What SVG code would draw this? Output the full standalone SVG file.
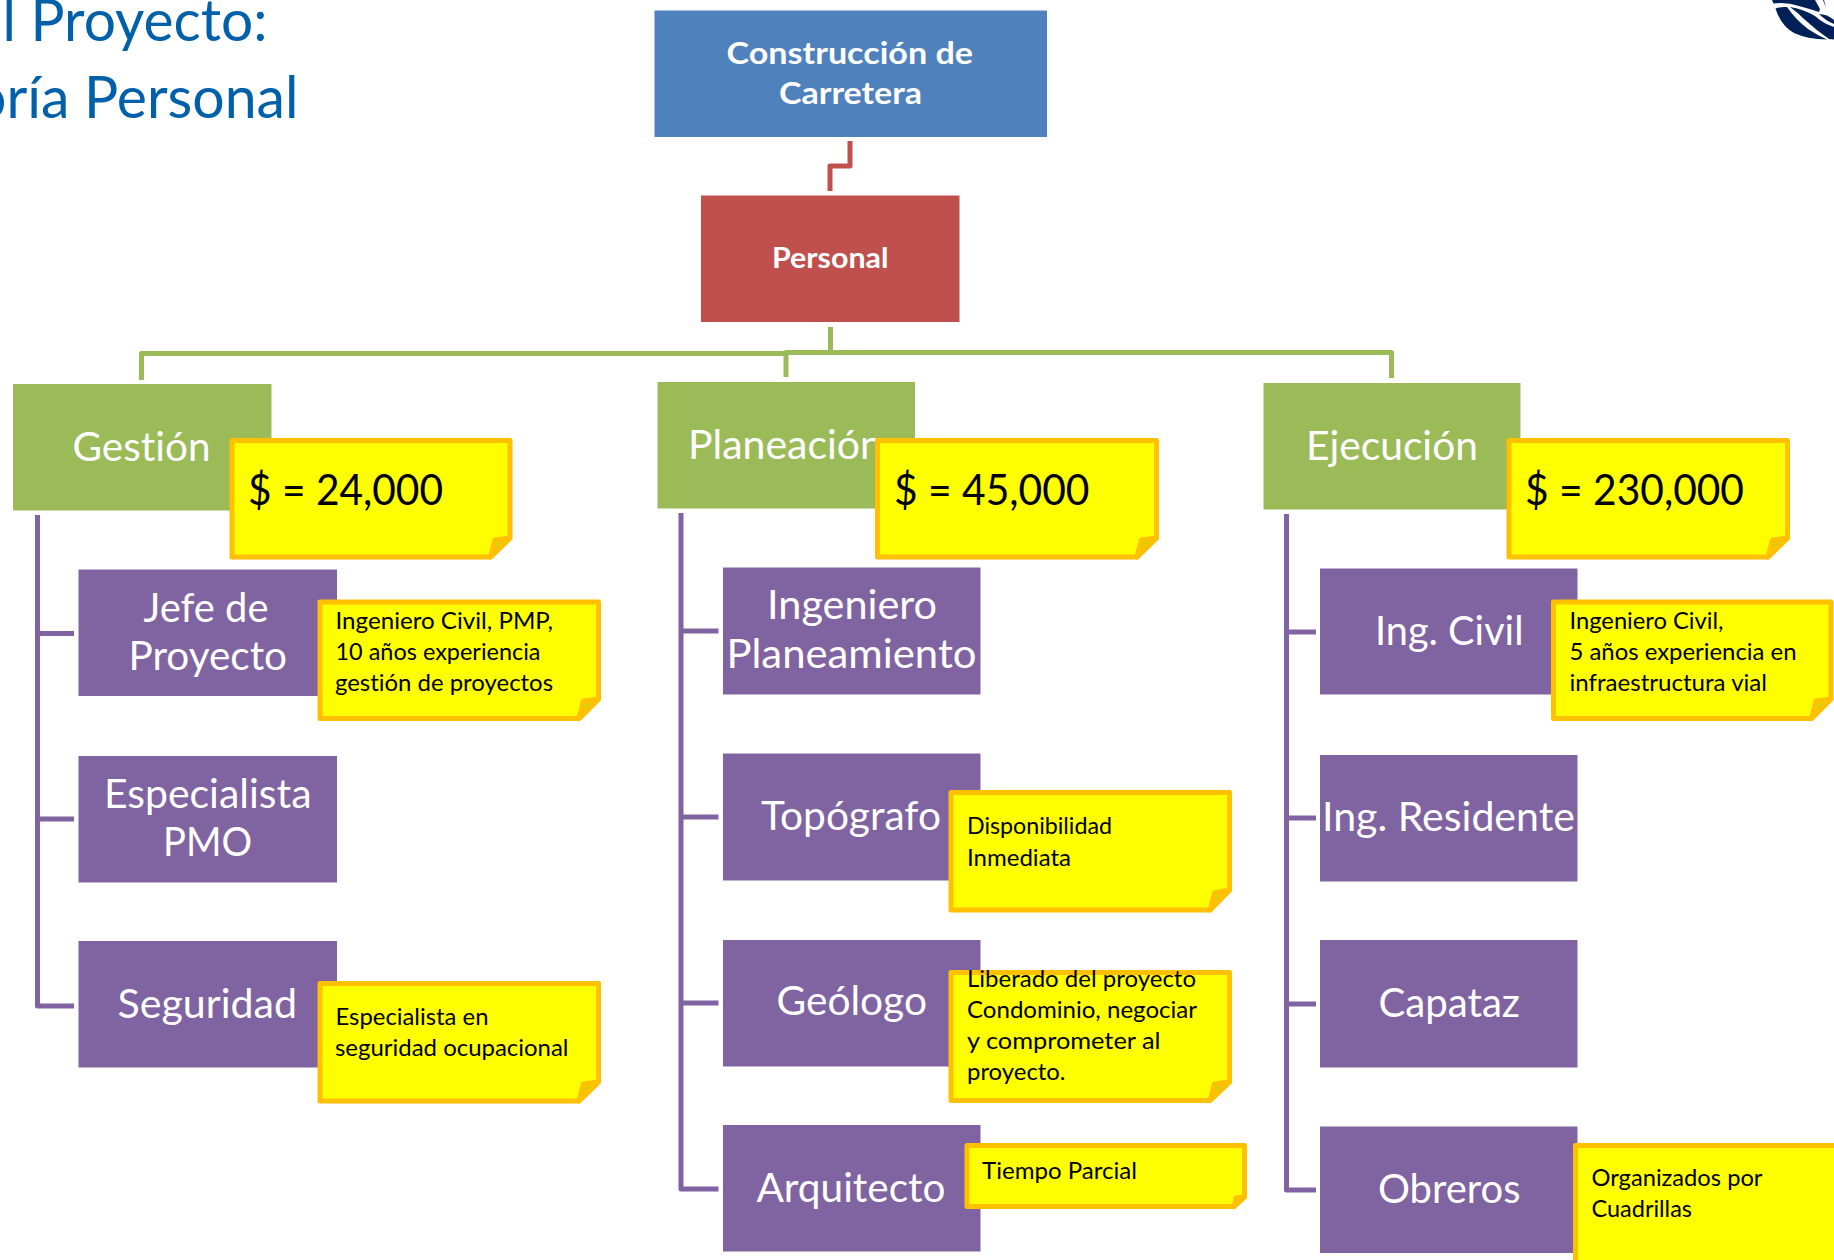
<svg xmlns="http://www.w3.org/2000/svg" width="1834" height="1260" viewBox="0 0 1834 1260">
<style>
text{font-family:Lato,"Open Sans","Liberation Sans",sans-serif;font-variant-ligatures:none}
.t{font-size:41px;fill:#fff}
.b{font-weight:700;fill:#fff}
.title{font-size:59px;fill:#0060A9}
.n{font-size:23px;fill:#000}
.m{font-size:43px;fill:#000}
.blue{fill:#4F81BD}.red{fill:#C0504D}.green{fill:#9BBB59}.purple{fill:#8064A2}
.note{fill:#FFFF00;stroke:#FFC000;stroke-width:5;stroke-linejoin:round}
.fold{fill:#D2D400;stroke:#FFC000;stroke-width:5;stroke-linejoin:round}
.c{fill:none;stroke-width:5;stroke-linejoin:round}
.cr{stroke:#C0504D}.cg{stroke:#9BBB59}.cp{stroke:#8064A2}
.logo{fill:#002157}
</style>
<rect width="1834" height="1260" fill="#fff"/>
<g id="title">
<text class="title" x="2.5" y="41" textLength="265" lengthAdjust="spacingAndGlyphs">l Proyecto:</text>
<text class="title" x="-26" y="118" textLength="324.5" lengthAdjust="spacingAndGlyphs">oría Personal</text>
</g>
<g id="logo" class="logo">
<path d="M1772,0 L1773.5,3.5 Q1787,2 1799,6 Q1810,9 1819,12 L1820,9 L1815,0 Z"/>
<path d="M1775.5,8.5 Q1781,6.5 1787,7 Q1796,20 1808,29 Q1817,35 1827,39.5 Q1807,39 1794,33 Q1781,26 1775.5,8.5 Z"/>
<path d="M1790,7 Q1803,9 1815,16 Q1824,24 1834,27 L1834,39.5 L1829,39 Q1816,30 1804,19 Q1797,12 1790,7 Z"/>
<path d="M1819,14 Q1827,14 1834,20 L1834,24 Q1826,21 1819,14 Z"/>
<path d="M1823,0 L1826,8 L1824,0 Z"/>
</g>
<g id="connectors">
<path class="c cr" d="M850,141V166H830V191"/>
<path class="c cg" d="M830.5,327V352.5H786V377"/>
<path class="c cg" d="M786,353.5H141.5V380"/>
<path class="c cg" d="M830.5,352.5H1391.5V378"/>
<path class="c cp" d="M37.5,515V1006H74M37.5,633.5H74M37.5,819H74"/>
<path class="c cp" d="M681,513V1189H718.5M681,631H718.5M681,817H718.5M681,1003H718.5"/>
<path class="c cp" d="M1286.5,514V1190H1316M1286.5,632H1316M1286.5,818H1316M1286.5,1004H1316"/>
</g>
<g id="n-construccion"><rect class="blue" x="654.5" y="10.5" width="392.5" height="126.5"/>
<text class="b" font-size="31" x="726.5" y="63.5" textLength="246.5" lengthAdjust="spacingAndGlyphs">Construcción de</text>
<text class="b" font-size="31" x="779" y="103.5" textLength="143" lengthAdjust="spacingAndGlyphs">Carretera</text></g>
<g id="n-personal"><rect class="red" x="701" y="195.5" width="258.5" height="126.5"/>
<text class="b" font-size="29" x="772" y="268" textLength="116.5" lengthAdjust="spacingAndGlyphs">Personal</text></g>
<g id="n-gestion"><rect class="green" x="13" y="384" width="258.5" height="126.5"/>
<text class="t" x="72.5" y="460.5" textLength="138" lengthAdjust="spacingAndGlyphs">Gestión</text></g>
<g id="n-planeacion"><rect class="green" x="657.5" y="382" width="257.5" height="126.5"/>
<text class="t" x="688" y="458.5" textLength="195" lengthAdjust="spacingAndGlyphs">Planeación</text></g>
<g id="n-ejecucion"><rect class="green" x="1263.5" y="383" width="257" height="126.5"/>
<text class="t" x="1306" y="459.5" textLength="172" lengthAdjust="spacingAndGlyphs">Ejecución</text></g>
<g id="n-jefe"><rect class="purple" x="78.5" y="569.5" width="258.5" height="126.5"/>
<text class="t" x="143.5" y="621.5" textLength="125" lengthAdjust="spacingAndGlyphs">Jefe de</text>
<text class="t" x="128.5" y="669.5" textLength="158.5" lengthAdjust="spacingAndGlyphs">Proyecto</text></g>
<g id="n-especialista"><rect class="purple" x="78.5" y="756" width="258.5" height="126.5"/>
<text class="t" x="104" y="807.5" textLength="207.5" lengthAdjust="spacingAndGlyphs">Especialista</text>
<text class="t" x="163" y="855.5" textLength="89" lengthAdjust="spacingAndGlyphs">PMO</text></g>
<g id="n-seguridad"><rect class="purple" x="78.5" y="941" width="258.5" height="126.5"/>
<text class="t" x="117.5" y="1017.5" textLength="179.5" lengthAdjust="spacingAndGlyphs">Seguridad</text></g>
<g id="n-ingeniero"><rect class="purple" x="723" y="567.5" width="257.5" height="127"/>
<text class="t" x="767" y="619" textLength="170" lengthAdjust="spacingAndGlyphs">Ingeniero</text>
<text class="t" x="726.5" y="667.5" textLength="250" lengthAdjust="spacingAndGlyphs">Planeamiento</text></g>
<g id="n-topografo"><rect class="purple" x="723" y="753.5" width="257.5" height="127"/>
<text class="t" x="761" y="830" textLength="180" lengthAdjust="spacingAndGlyphs">Topógrafo</text></g>
<g id="n-geologo"><rect class="purple" x="723" y="940" width="257.5" height="126.5"/>
<text class="t" x="776.5" y="1015" textLength="150.5" lengthAdjust="spacingAndGlyphs">Geólogo</text></g>
<g id="n-arquitecto"><rect class="purple" x="723" y="1125" width="257.5" height="126.5"/>
<text class="t" x="756.5" y="1201.5" textLength="189" lengthAdjust="spacingAndGlyphs">Arquitecto</text></g>
<g id="n-ingcivil"><rect class="purple" x="1320" y="568.5" width="257.5" height="126"/>
<text class="t" x="1375" y="645" textLength="148.5" lengthAdjust="spacingAndGlyphs">Ing. Civil</text></g>
<g id="n-residente"><rect class="purple" x="1320" y="755" width="257.5" height="126.5"/>
<text class="t" x="1322" y="831" textLength="253" lengthAdjust="spacingAndGlyphs">Ing. Residente</text></g>
<g id="n-capataz"><rect class="purple" x="1320" y="940" width="257.5" height="127.5"/>
<text class="t" x="1378.5" y="1016.5" textLength="141.5" lengthAdjust="spacingAndGlyphs">Capataz</text></g>
<g id="n-obreros"><rect class="purple" x="1320" y="1126.5" width="257.5" height="126.5"/>
<text class="t" x="1378" y="1202.5" textLength="142.5" lengthAdjust="spacingAndGlyphs">Obreros</text></g>
<g id="note-gestion"><path class="note" d="M232,440.5H510V538L490.5,557H232Z"/><path class="fold" d="M490.5,557L495,540L510,538Z"/>
<text class="m" x="248" y="505" textLength="195" lengthAdjust="spacingAndGlyphs">$ = 24,000</text></g>
<g id="note-planeacion"><path class="note" d="M877.5,440.5H1156.5V538L1137,557H877.5Z"/><path class="fold" d="M1137,557L1141.5,540L1156.5,538Z"/>
<text class="m" x="894" y="505" textLength="195.5" lengthAdjust="spacingAndGlyphs">$ = 45,000</text></g>
<g id="note-ejecucion"><path class="note" d="M1509,440.5H1787.5V538L1768,557H1509Z"/><path class="fold" d="M1768,557L1772.5,540L1787.5,538Z"/>
<text class="m" x="1525" y="505" textLength="219" lengthAdjust="spacingAndGlyphs">$ = 230,000</text></g>
<g id="note-jefe"><path class="note" d="M320,602H598.5V699L579,718.5H320Z"/><path class="fold" d="M579,718.5L583.5,701L598.5,699Z"/>
<text class="n" x="335.5" y="628.5" textLength="217.5" lengthAdjust="spacingAndGlyphs">Ingeniero Civil, PMP,</text>
<text class="n" x="335.5" y="659.5" textLength="205" lengthAdjust="spacingAndGlyphs">10 años experiencia</text>
<text class="n" x="335" y="690.5" textLength="218" lengthAdjust="spacingAndGlyphs">gestión de proyectos</text></g>
<g id="note-ingcivil"><path class="note" d="M1553.5,602H1831V699L1811.5,718.5H1553.5Z"/><path class="fold" d="M1811.5,718.5L1816,701L1831,699Z"/>
<text class="n" x="1569.5" y="628.5" textLength="154" lengthAdjust="spacingAndGlyphs">Ingeniero Civil,</text>
<text class="n" x="1569.5" y="659.5" textLength="227" lengthAdjust="spacingAndGlyphs">5 años experiencia en</text>
<text class="n" x="1569.5" y="690.5" textLength="197.5" lengthAdjust="spacingAndGlyphs">infraestructura vial</text></g>
<g id="note-seguridad"><path class="note" d="M320,983.5H598.5V1082L579,1101H320Z"/><path class="fold" d="M579,1101L583.5,1084L598.5,1082Z"/>
<text class="n" x="335.5" y="1025" textLength="153" lengthAdjust="spacingAndGlyphs">Especialista en</text>
<text class="n" x="335" y="1055.5" textLength="233.5" lengthAdjust="spacingAndGlyphs">seguridad ocupacional</text></g>
<g id="note-topografo"><path class="note" d="M951,792.5H1229.5V890L1210,910H951Z"/><path class="fold" d="M1210,910L1214.5,893L1229.5,890Z"/>
<text class="n" x="967" y="834" textLength="145" lengthAdjust="spacingAndGlyphs">Disponibilidad</text>
<text class="n" x="967" y="865.5" textLength="104" lengthAdjust="spacingAndGlyphs">Inmediata</text></g>
<g id="note-geologo"><path class="note" d="M951,972.5H1229.5V1082L1210,1100.5H951Z"/><path class="fold" d="M1210,1100.5L1214.5,1084L1229.5,1082Z"/>
<text class="n" x="967" y="987" textLength="229" lengthAdjust="spacingAndGlyphs">Liberado del proyecto</text>
<text class="n" x="967" y="1018" textLength="230" lengthAdjust="spacingAndGlyphs">Condominio, negociar</text>
<text class="n" x="967" y="1049" textLength="193.5" lengthAdjust="spacingAndGlyphs">y comprometer al</text>
<text class="n" x="967" y="1080" textLength="98.5" lengthAdjust="spacingAndGlyphs">proyecto.</text></g>
<g id="note-arquitecto"><path class="note" d="M967,1145.5H1244.5V1197L1234,1206.5H967Z"/><path class="fold" d="M1234,1206.5L1236,1198L1244.5,1197Z"/>
<text class="n" x="982" y="1179" textLength="155" lengthAdjust="spacingAndGlyphs">Tiempo Parcial</text></g>
<g id="note-obreros"><path class="note" d="M1575.5,1145.5H1860V1290H1575.5Z"/>
<text class="n" x="1591.5" y="1186" textLength="171" lengthAdjust="spacingAndGlyphs">Organizados por</text>
<text class="n" x="1591.5" y="1217" textLength="100.5" lengthAdjust="spacingAndGlyphs">Cuadrillas</text></g>
</svg>
